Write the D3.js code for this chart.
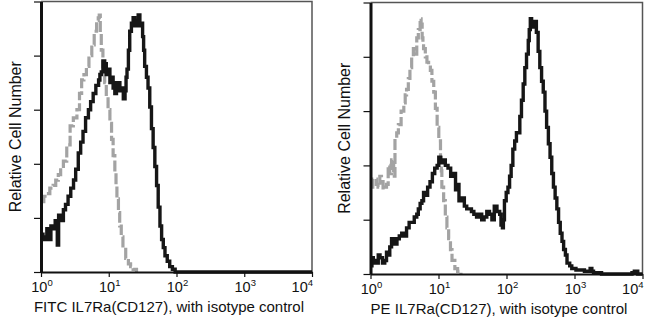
<!DOCTYPE html>
<html><head><meta charset="utf-8">
<script src="https://cdn.jsdelivr.net/npm/d3@7"></script>
<style>body{margin:0;background:#fff}svg{display:block}text{font-family:"Liberation Sans",Arial,Helvetica,sans-serif;fill:#111}</style>
</head><body>
<svg id="c" width="650" height="325"></svg>
<script>
// ---- data (fluorescence intensity, relative count %) ----
const tickExponents = [0, 1, 2, 3, 4];
const yTickValues = d3.range(0, 101, 5);
const yMajorValues = [0, 20, 40, 60, 80, 100];

const panel1Title = "FITC IL7Ra(CD127), with isotype control";
const panel2Title = "PE IL7Ra(CD127), with isotype control";
const yTitle = "Relative Cell Number";

const fitcIsoX = [1.00,1.10,1.21,1.35,1.51,1.65,1.80,1.95,2.14,2.40,2.69,3.00,3.39,3.70,3.98,4.30,4.68,5.10,5.62,6.10,6.61,7.00,7.24,7.50,7.76,8.20,8.71,9.20,9.77,10.4,11.0,11.6,12.3,12.8,13.2,13.9,14.5,15.3,16.2,17.8,19.5,21.0,22.9,25.7];
const fitcIsoY = [26,28,29,31,32,34,36,39,41,47,54,57,60,66,71,73,76,80,84,89,93,94,95,88,82,76,70,65,60,55,49,43,37,32,27,22,17,13,9,5,3,2,1,0];

const fitcX = [1.00,1.07,1.15,1.22,1.29,1.40,1.51,1.62,1.74,1.82,1.95,2.14,2.30,2.51,2.75,3.02,3.25,3.55,3.85,4.17,4.55,5.01,5.40,5.89,6.45,7.08,7.40,7.76,8.20,8.71,9.20,9.77,10.4,11.0,11.6,12.3,13.0,13.8,14.6,15.5,16.4,17.4,18.0,18.6,19.5,20.4,21.6,22.9,24.2,25.7,27.2,28.8,30.2,31.6,32.7,33.9,36.0,38.0,40.3,42.7,45.2,47.9,50.8,53.7,57.0,60.3,63.8,67.6,73.0,79.4,87.0,95.5,10000];
const fitcY = [14,12,13,16,12,17,16,19,10,21,19,23,25,28,31,34,38,44,48,52,57,60,63,66,69,71,73,74,78,77,73,75,70,72,68,66,70,70,67,68,64,67,72,75,82,89,92,94,91,93,95,91,92,87,82,76,72,68,61,53,46,39,32,24,17,12,9,6,4,2,1,0,0];

const peIsoX = [1.00,1.08,1.16,1.22,1.29,1.37,1.45,1.53,1.62,1.72,1.82,1.92,2.04,2.12,2.19,2.24,2.29,2.43,2.57,2.82,3.09,3.24,3.39,3.60,3.80,4.03,4.27,4.50,4.79,5.05,5.37,5.55,5.75,5.90,6.03,6.40,6.76,7.15,7.59,8.00,8.51,9.00,9.55,10.1,10.7,11.0,11.2,11.9,12.6,13.3,14.1,15.0,15.8,17.4,19.1,21.4];
const peIsoY = [32,35,35,33,32,36,34,31,32,33,40,37,42,41,38,36,50,52,55,60,63,66,68,72,76,80,83,81,87,90,94,92,87,85,83,80,78,77,75,71,67,61,54,49,43,38,32,27,21,17,13,9,5,2,1,0];

const peX = [1.00,1.05,1.10,1.16,1.23,1.30,1.38,1.50,1.62,1.72,1.82,1.92,2.04,2.20,2.45,2.65,2.88,3.10,3.39,3.70,4.07,4.40,4.79,5.05,5.37,5.70,6.03,6.45,6.92,7.50,8.13,8.80,9.55,10.1,10.7,11.6,12.6,13.8,15.1,16.4,17.8,18.9,20.0,22.0,24.0,26.0,28.2,30.5,33.1,36.3,39.8,43.2,46.8,51.3,56.2,61.0,66.1,72.4,79.4,83.0,87.1,90.0,93.3,99.0,105,111,117,124,132,140,148,157,166,176,186,197,209,216,224,234,245,260,275,292,309,328,347,368,389,413,437,463,490,519,550,583,617,655,692,735,776,850,912,1050,1202,1400,1698,1800,1905,2500,6026,7000,7586,8511,10000];
const peY = [3,6,4,5,4,7,6,4,5,8,7,10,13,11,13,14,15,14,17,19,19,21,22,24,26,27,30,29,32,34,37,39,40,43,41,42,40,39,36,37,31,33,27,28,25,24,24,23,22,21,22,20,21,23,22,20,25,23,22,18,17,20,27,30,32,36,40,46,49,52,52,58,64,70,76,81,86,90,94,92,91,93,89,82,76,71,67,60,54,48,43,37,32,28,24,19,15,12,9,7,4,3,2,1.5,1.5,1,2,1,0.5,0,0,0.5,1,0,0];

// ---- drawing ----
const svg = d3.select("#c");

function drawPanel(cfg) {
  const x = d3.scaleLog().domain([1, 1e4]).range([cfg.x0, cfg.x1]);
  const y = d3.scaleLinear().domain([0, 100]).range([cfg.y1, cfg.y0]);
  const g = svg.append("g");

  // frame top/right
  g.append("path")
    .attr("d", `M${cfg.x0},${cfg.y0}H${cfg.x1}V${cfg.y1}`)
    .attr("fill", "none").attr("stroke", "#555").attr("stroke-width", 1.5);

  const line = d3.line().x(d => x(d[0])).y(d => y(d[1])).curve(d3.curveStepAfter);

  // isotype (grey dashed)
  g.append("path")
    .datum(cfg.isoX.map((v, i) => [v, cfg.isoY[i]]))
    .attr("d", line)
    .attr("fill", "none").attr("stroke", "#a3a3a3")
    .attr("stroke-width", 3.2).attr("stroke-dasharray", "11,3");

  // stained (black)
  g.append("path")
    .datum(cfg.sX.map((v, i) => [v, cfg.sY[i]]))
    .attr("d", line)
    .attr("fill", "none").attr("stroke", "#161616")
    .attr("stroke-width", 3.4).attr("stroke-linejoin", "miter");

  // x axis
  const minor = [];
  for (let d = 0; d < 4; d++) for (let k = 2; k <= 9; k++) minor.push(k * Math.pow(10, d));
  const xa = g.append("g").attr("transform", `translate(0,${cfg.y1})`);
  xa.call(d3.axisBottom(x).tickValues(minor).tickSize(3).tickFormat("").tickSizeOuter(0));
  xa.call(d3.axisBottom(x).tickValues(tickExponents.map(e => Math.pow(10, e))).tickSize(5).tickFormat("").tickSizeOuter(0));
  xa.selectAll(".domain").attr("stroke", "#111").attr("stroke-width", 2);
  xa.selectAll(".tick line").attr("stroke", "#111").attr("stroke-width", 1.2);

  // x tick labels with superscripts
  tickExponents.forEach((e, i) => {
    const last = i === tickExponents.length - 1;
    const t = g.append("text")
      .attr("x", last ? cfg.x1 + 1 : x(Math.pow(10, e)) + 1)
      .attr("y", cfg.y1 + 20)
      .attr("text-anchor", last ? "end" : "middle")
      .attr("font-size", 14.5);
    t.append("tspan").text("10");
    t.append("tspan").attr("font-size", 9.5).attr("dy", -6).text(String(e));
  });

  // y axis
  const ya = g.append("g").attr("transform", `translate(${cfg.x0},0)`);
  ya.call(d3.axisLeft(y).tickValues(yTickValues).tickSize(3).tickFormat("").tickSizeOuter(0));
  ya.call(d3.axisLeft(y).tickValues(yMajorValues).tickSize(7).tickFormat("").tickSizeOuter(0));
  ya.selectAll(".domain").attr("stroke", "#111").attr("stroke-width", 3);
  ya.selectAll(".tick line").attr("stroke", "#111").attr("stroke-width", 1.2);

  // titles
  g.append("text").attr("x", cfg.titleX).attr("y", cfg.y1 + 40)
    .attr("text-anchor", "middle").attr("font-size", 15).text(cfg.title);
  g.append("text")
    .attr("transform", `translate(${cfg.yTitleX},${(cfg.y0 + cfg.y1) / 2}) rotate(-90)`)
    .attr("text-anchor", "middle").attr("font-size", 16).text(yTitle);
}

drawPanel({x0: 41, x1: 312, y0: 1.5, y1: 272, isoX: fitcIsoX, isoY: fitcIsoY, sX: fitcX, sY: fitcY,
  title: panel1Title, titleX: 169, yTitleX: 21});
drawPanel({x0: 370.5, x1: 642.5, y0: 2.5, y1: 274, isoX: peIsoX, isoY: peIsoY, sX: peX, sY: peY,
  title: panel2Title, titleX: 499, yTitleX: 350});
</script>
</body></html>
